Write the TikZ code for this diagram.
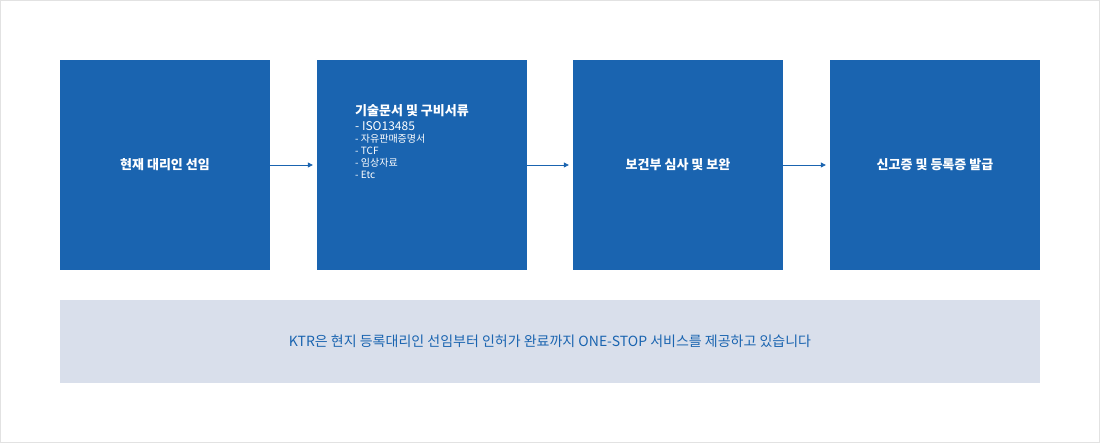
\documentclass[tikz,border=0pt]{standalone}
\usepackage{fontspec}
\setmainfont{Noto Sans CJK KR}
\usetikzlibrary{arrows.meta}
\definecolor{boxblue}{HTML}{1A64B0}
\definecolor{band}{HTML}{D9DFEB}
\definecolor{frame}{HTML}{E2E2E2}
\begin{document}
\begin{tikzpicture}[x=1pt,y=-1pt,
  stepbox/.style={fill=boxblue,minimum width=210pt,minimum height=210pt,inner sep=0pt,text=white,font=\fontsize{13}{16}\selectfont\bfseries},
  conn/.style={draw=boxblue,line width=0.8pt,-{Triangle[length=5pt,width=5pt]},shorten >=4pt}]
\draw[frame,fill=white] (0.5,0.5) rectangle (1099.5,442.5);
\useasboundingbox (0,0) rectangle (1100,443);
\node[stepbox] (a) at (165,165) {현재 대리인 선임};
\node[stepbox] (b) at (422,165) {};
\node[stepbox] (c) at (678,165) {보건부 심사 및 보완};
\node[stepbox] (d) at (935,165) {신고증 및 등록증 발급};
\node[anchor=north west,text=white,align=left,inner sep=0pt] (bt) at (355,104)
 {{\fontsize{13}{16}\selectfont\bfseries 기술문서 및 구비서류}\\[3pt]
  \fontsize{12}{19}\selectfont - ISO13485\\- 자유판매증명서\\- TCF\\- 임상자료\\- Etc};
\draw[conn] (a.east) -- (b.west);
\draw[conn] (b.east) -- (c.west);
\draw[conn] (c.east) -- (d.west);
\node[fill=band,minimum width=980pt,minimum height=83pt,inner sep=0pt,text=boxblue,font=\fontsize{14}{17}\selectfont] (e) at (550,341.5) {KTR은 현지 등록대리인 선임부터 인허가 완료까지 ONE-STOP 서비스를 제공하고 있습니다};
\end{tikzpicture}
\end{document}
